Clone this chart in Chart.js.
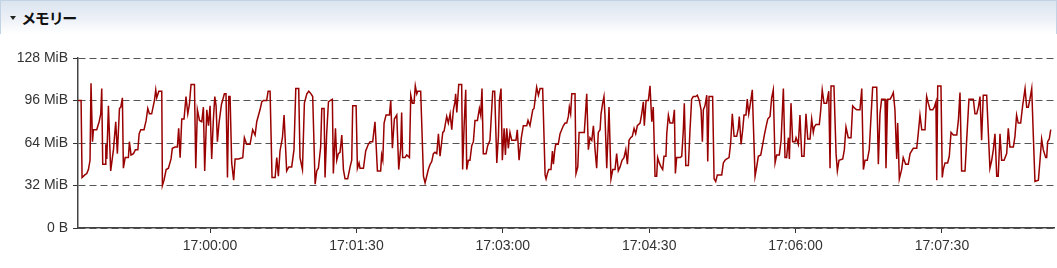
<!DOCTYPE html>
<html>
<head>
<meta charset="utf-8">
<script src="https://cdn.jsdelivr.net/npm/chart.js@4.4.1/dist/chart.umd.min.js"></script>
<style>
html,body{margin:0;padding:0;background:#fff;width:1057px;height:268px;overflow:hidden;}
#header{position:absolute;left:0;top:0;width:1057px;height:34px;box-sizing:border-box;border:1px solid #c3d3e6;border-bottom:none;background:linear-gradient(to bottom,#dbe4ef 0%,#edf1f7 55%,#ffffff 100%);}
#title{position:absolute;left:21px;top:7px;font-family:"Noto Sans CJK JP";font-weight:700;font-size:15px;color:#111;font-feature-settings:"palt";line-height:20px;}
#tri{position:absolute;left:9px;top:15px;width:0;height:0;border-left:3px solid transparent;border-right:3px solid transparent;border-top:4px solid #222;}
#wrap{position:absolute;left:0;top:0;width:1057px;height:268px;}
</style>
</head>
<body>
<div id="header"><div id="tri"></div><div id="title">メモリー</div></div>
<div id="wrap"><canvas id="c" width="1057" height="268"></canvas></div>
<script>
// Seconds relative to 17:00:00
const sampleSeconds = [
-81.2,-79.3,-78.7,-77.0,-75.8,-74.8,-73.8,-73.2,-72.3,-71.7,
-69.7,-68.2,-67.2,-66.6,-66.0,-64.5,-64.1,-63.5,-62.5,-61.1,
-59.4,-58.0,-57.0,-55.7,-54.9,-53.9,-53.3,-52.2,-50.2,-49.6,
-48.6,-47.1,-45.9,-44.4,-43.6,-42.6,-40.6,-39.3,-38.3,-37.3,
-35.9,-34.2,-33.4,-32.8,-31.5,-29.7,-29.3,-28.3,-27.0,-25.6,
-24.0,-23.2,-21.5,-20.1,-19.3,-18.4,-17.4,-16.0,-14.8,-13.7,
-12.7,-11.7,-9.6,-8.8,-7.8,-6.5,-5.1,-4.1,-3.3,-2.0,
-1.0,0,1.0,2.0,2.9,3.7,4.5,5.5,7.0,8.8,
9.8,10.7,11.5,12.3,13.3,14.5,15.4,17.4,20.1,21.1,
22.5,24.6,26.2,27.7,28.7,30.7,31.8,32.8,34.8,35.7,
36.9,38.1,40.0,41.0,42.0,43.0,44.5,45.5,47.1,48.4,
50.2,51.6,52.7,54.5,55.3,56.8,58.0,59.5,60.7,
62.1,63.1,64.6,65.6,66.6,68.0,68.7,70.1,70.7,71.7,
72.8,73.8,75.2,75.8,77.1,77.9,78.9,79.9,81.0,82.0,
83.0,84.6,86.1,87.1,87.7,89.8,90.6,91.6,92.2,94.3,
95.7,97.3,98.4,100.0,101.4,102.9,104.9,105.5,106.2,107.0,
108.2,110.3,111.1,112.1,113.3,114.8,116.0,117.2,117.8,118.4,
119.9,120.9,122.6,123.4,124.4,125.4,126.2,127.1,127.7,129.5,
131.2,132.2,133.2,134.2,135.3,136.3,137.3,138.3,139.4,140.4,
141.4,143.1,143.9,145.5,146.5,147.6,148.6,149.6,150.6,151.0,
151.7,152.9,154.7,155.3,156.2,157.2,157.8,158.8,159.8,160.9,
161.9,162.9,164.4,165.6,166.4,167.2,168.0,169.7,170.7,172.1,
173.8,175.0,176.3,177.3,177.9,178.9,179.7,180.8,181.6,182.4,
183.4,184.4,185.5,188.1,188.9,190.0,191.4,192.6,194.7,195.5,
196.7,198.4,199.2,200.8,201.9,202.9,
204.5,206.0,206.6,207.4,208.2,209.6,210.5,211.1,211.9,212.5,
214.1,215.2,216.2,217.2,218.3,219.3,220.3,220.9,221.7,222.4,
224.4,225.0,226.1,226.9,230.1,231.6,232.6,233.6,234.7,235.7,
236.7,237.7,238.7,239.8,240.4,241.4,242.2,242.8,243.9,245.3,
246.5,247.6,249.0,250.0,251.0,252.1,253.3,254.5,255.6,256.6,
257.6,258.6,259.6,260.7,261.7,262.7,264.4,265.4,266.4,267.0,
268.1,269.5,270.5,271.6,272.5,273.6,274.6,275.2,276.2,277.3,
278.3,279.1,280.3,280.8,281.8,282.8,284.5,285.5,286.1,286.9,
289.0,290.0,291.0,291.6,292.5,294.1,295.1,296.1,297.1,298.6,
299.6,300.8,301.9,302.7,303.3,304.3,305.4,306.0,306.8,309.0,
309.9,310.9,311.9,314.6,315.6,316.6,317.7,319.1,320.1,321.1,
322.2,323.8,324.8,325.4,326.5,327.5,328.3,329.5,330.3,331.2,
332.0,333.4,334.0,335.1,336.1,337.1,338.6,339.8,340.8,341.8,
342.9,344.3,345.3,346.3,347.4,348.4,350.0,
351.1,352.5,353.5,354.5,355.6,356.2,357.2,358.2,359.7,360.3,
361.7,362.7,363.8,365.2,366.4,367.5,368.9,369.9,370.9,371.5,
372.6,374.6,375.5,376.4,377.5,379.1,380.4,381.2,381.8,383.6,
384.9,385.7,386.7,389.0,390.0,391.0,392.4,394.1,395.1,396.5,
397.6,399.6,400.7,401.7,402.7,404.1,405.3,406.4,407.4,409.9,
410.9,411.9,412.9,415.0,415.6,416.6,418.1,419.1,420.1,421.1,
422.2,422.8,423.8,425.2,426.2,427.7,429.3,430.4,431.4,432.4,
434.5,435.5,436.5,437.6,439.6,440.6,441.6,442.7,444.3,445.3,
446.3,446.8,447.4,449.4,450.2,450.8,451.9,453.5,454.5,455.6,
457.0,459.1,460.1,461.1,462.1,464.2,465.2,466.6,469.3,470.3,
471.4,472.4,473.4,474.4,475.4,477.5,479.5,480.6,481.6,482.6,
483.7,484.6,485.7,486.7,488.2,489.8,490.8,491.8,493.9,494.9,
495.9,496.9,498.4,499.6,501.1,502.1,503.1,504.1,505.2,506.2,
507.2,509.3,510.3,511.3,512.3,513.8,514.4,515.0,516.0,516.9
];
// Memory used, MiB
const memoryMiB = [
96,96,38,40,41,44,51,109,65,74,
74,80,86,105,48,48,63,52,92,43,
59,80,56,90,91,98,45,53,53,65,
55,56,59,59,71,74,74,81,90,86,
86,96,104,98,103,103,32,36,44,45,
52,60,61,61,75,53,82,82,99,86,
93,108,108,45,89,81,80,91,43,89,
77,92,52,81,99,92,65,79,93,101,
101,38,99,99,49,36,52,52,53,68,
63,63,74,70,80,89,95,96,96,103,
103,38,38,53,39,58,68,85,43,46,
46,59,105,105,53,44,94,101,103,
101,99,33,43,45,61,90,90,38,71,
95,96,97,41,75,51,56,57,70,44,
37,37,46,51,92,92,45,49,45,45,
58,63,65,65,80,43,43,55,51,79,
85,85,96,60,82,85,44,60,87,53,
53,55,53,100,94,94,107,101,103,103,
39,34,39,44,48,50,56,57,56,71,
54,72,73,84,79,86,74,89,95,101,
87,108,108,44,77,104,44,51,51,62,
65,81,81,90,85,105,56,56,62,66,
103,103,49,69,96,105,51,75,55,75,
60,72,66,66,74,51,68,77,77,81,
77,89,90,106,100,105,
105,40,37,41,44,44,58,48,58,63,
63,71,74,77,79,79,84,91,86,101,
101,41,46,72,72,101,59,68,66,77,
59,45,72,74,86,94,99,85,45,91,
37,44,44,56,43,46,51,53,59,48,
66,68,69,75,71,77,79,86,95,77,
96,96,107,80,91,39,39,53,49,46,
44,54,54,71,85,79,79,89,41,53,
53,54,74,94,47,47,74,97,99,99,
100,96,89,65,89,92,100,50,99,99,
37,35,40,40,49,51,52,53,64,86,
69,69,75,84,63,74,85,85,97,86,
92,104,80,39,46,54,55,63,70,76,
82,84,98,104,49,55,55,
66,105,53,53,68,52,94,65,65,68,
63,85,54,54,86,67,67,82,72,76,
78,78,89,104,94,94,103,45,107,107,
56,43,51,52,59,76,68,68,92,90,
89,89,105,44,51,51,59,84,106,106,
48,86,97,97,45,97,97,99,102,89,
52,79,37,44,53,48,48,56,58,60,
60,72,85,74,74,99,94,89,89,91,
95,36,107,107,38,44,49,49,54,72,
70,70,81,102,43,43,66,97,97,86,
86,91,99,66,100,100,45,51,59,71,
39,39,71,51,51,56,75,61,61,69,
85,79,79,92,105,91,91,97,105,69,
35,36,51,67,59,53,53,65,67,74
];
const baseClock = 17 * 3600;           // 17:00:00
const xRange = [-81.2, 518.9];         // 16:58:38.8 .. 17:08:38.9
const xTickSeconds = [0, 90, 180, 270, 360, 450];
const yTickMiB = [0, 32, 64, 96, 128];

const MiB = 1048576;
if (sampleSeconds.length !== memoryMiB.length) console.error('length mismatch', sampleSeconds.length, memoryMiB.length);
const n = Math.min(sampleSeconds.length, memoryMiB.length);
const points = [];
for (let i = 0; i < n; i++) points.push({x: sampleSeconds[i], y: memoryMiB[i] * MiB});

function pad(v){ return (v < 10 ? '0' : '') + v; }
function clock(t){
  const s = Math.round(baseClock + t);
  return pad(Math.floor(s / 3600)) + ':' + pad(Math.floor(s % 3600 / 60)) + ':' + pad(s % 60);
}

new Chart(document.getElementById('c'), {
  type: 'line',
  data: { datasets: [{
    data: points,
    borderColor: '#990000',
    borderWidth: 1.5,
    pointRadius: 0,
    tension: 0,
    fill: false
  }]},
  options: {
    responsive: false,
    animation: false,
    events: [],
    layout: { padding: { top: 58, left: 0, right: 3, bottom: 0 } },
    plugins: { legend: { display: false }, tooltip: { enabled: false } },
    scales: {
      x: {
        type: 'linear',
        min: xRange[0], max: xRange[1],
        afterBuildTicks: s => { s.ticks = xTickSeconds.map(v => ({ value: v })); },
        afterFit: s => { s.height = 40; },
        ticks: {
          callback: v => clock(v),
          color: '#333', font: { family: 'Liberation Sans, Arial, sans-serif', size: 14 },
          padding: 5, maxRotation: 0, autoSkip: false
        },
        grid: { drawOnChartArea: false, drawTicks: true, tickLength: 5, tickColor: '#333', tickWidth: 1 },
        border: { color: '#444', width: 1.5 }
      },
      y: {
        min: 0, max: 128 * MiB,
        afterBuildTicks: s => { s.ticks = yTickMiB.map(v => ({ value: v * MiB })); },
        afterFit: s => { s.width = 78; },
        ticks: {
          callback: v => v === 0 ? '0 B' : (v / MiB) + ' MiB',
          color: '#333', font: { family: 'Liberation Sans, Arial, sans-serif', size: 14 },
          padding: 5
        },
        grid: { color: '#555', lineWidth: 1, tickLength: 5, tickColor: '#333', tickWidth: 1 },
        border: { color: '#444', width: 1.5, dash: [7, 4] }
      }
    }
  }
});
</script>
</body>
</html>
